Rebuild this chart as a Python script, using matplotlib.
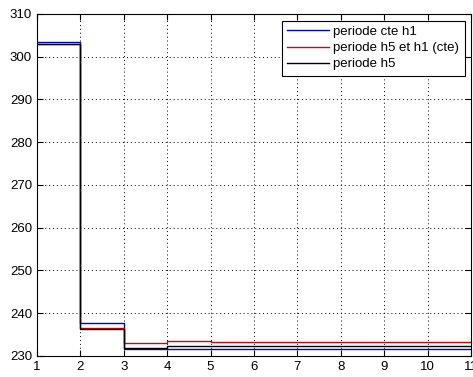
import matplotlib.pyplot as plt
import numpy as np

plt.rcParams['font.family'] = ['Liberation Sans', 'DejaVu Sans']

# data (step values per interval, last value repeated for stairs)
x = np.arange(1, 12)
cte_h1 = [303.5, 237.6, 231.7, 231.6, 231.6, 231.6, 231.6, 231.6, 231.6, 231.6, 231.6]
h5_h1_cte = [303.0, 236.6, 233.1, 233.4, 233.2, 233.2, 233.2, 233.2, 233.2, 233.2, 233.2]
h5 = [303.0, 236.4, 231.8, 232.2, 232.2, 232.2, 232.2, 232.2, 232.2, 232.2, 232.2]
labels = ['periode cte h1', 'periode h5 et h1 (cte)', 'periode h5']

fig = plt.figure(figsize=(4.73, 3.77), dpi=100)
ax = fig.add_axes([0.078, 0.056, 0.918, 0.907])

ax.step(x, cte_h1, where='post', color='#0000cc', lw=1.0, label=labels[0])
ax.step(x, h5_h1_cte, where='post', color='#dd0000', lw=1.0, label=labels[1])
ax.step(x, h5, where='post', color='black', lw=1.0, label=labels[2])

ax.set_xlim(1, 11)
ax.set_ylim(230, 310)
ax.set_xticks(np.arange(1, 12))
ax.set_yticks(np.arange(230, 311, 10))
ax.grid(True, color='black', linestyle=(0, (1, 3)), lw=0.7)
ax.tick_params(direction='in', top=True, right=True, labelsize=9.5, length=4)
for s in ax.spines.values():
    s.set_linewidth(0.8)

leg = ax.legend(loc='upper right', fontsize=9.5, fancybox=False, framealpha=1,
                edgecolor='black', borderaxespad=0.5, handlelength=3.2,
                labelspacing=0.3, borderpad=0.4, handletextpad=0.3)
leg.get_frame().set_linewidth(0.8)

fig.savefig('out.png', dpi=100)
